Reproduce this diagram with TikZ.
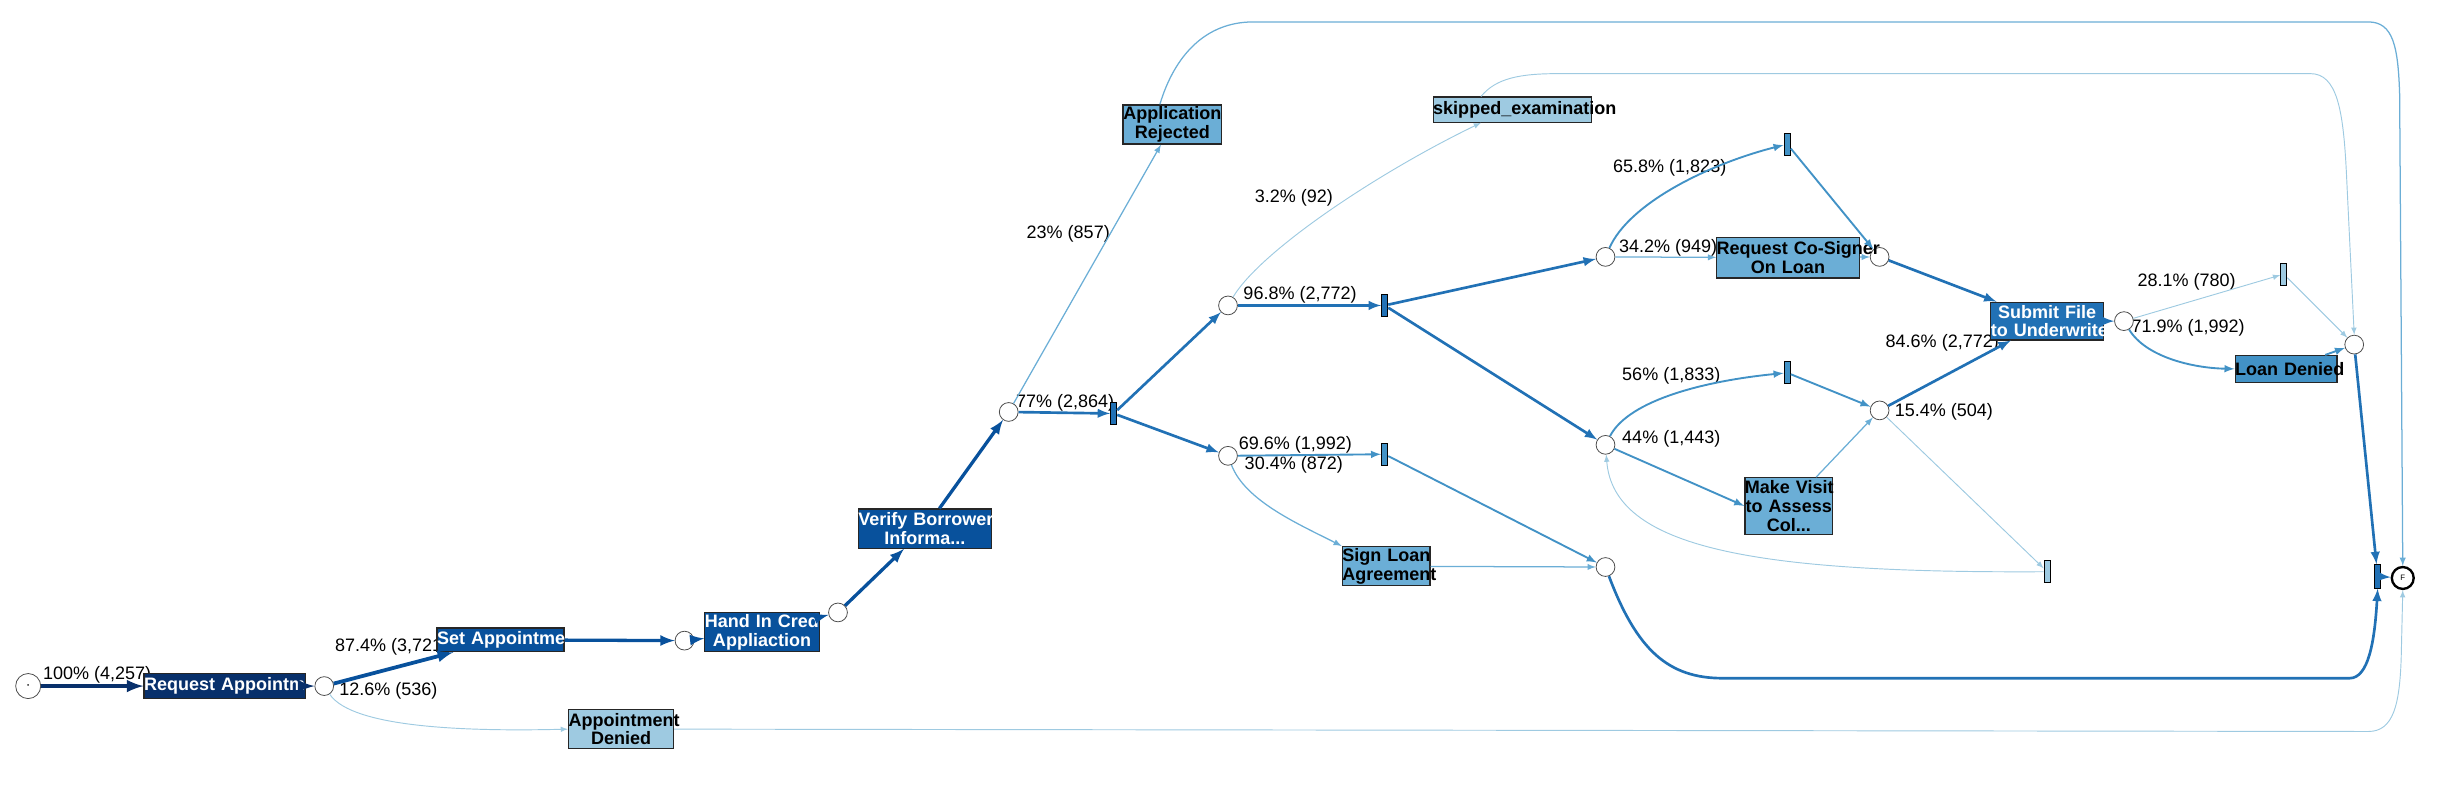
\documentclass[tikz,border=0pt]{standalone}
\usepackage{fontspec}
\setmainfont{Liberation Sans}
\usepackage{tikz}

\definecolor{blueA}{HTML}{08306B}
\definecolor{blueB}{HTML}{08519C}
\definecolor{blueC}{HTML}{2171B5}
\definecolor{blueD}{HTML}{4292C6}
\definecolor{blueE}{HTML}{6BAED6}
\definecolor{blueF}{HTML}{9ECAE1}

\tikzset{
  task/.style={rectangle, draw=black!85, line width=0.8pt, inner sep=0pt, align=center,
    font=\fontsize{11.5}{12}\selectfont\bfseries},
  darktask/.style={task, text=white},
  place/.style={circle, draw=black!70, fill=white, line width=0.5pt, minimum size=12pt, inner sep=0pt},
  bar/.style={rectangle, draw=black, line width=0.6pt, minimum width=4pt, minimum height=14pt, inner sep=0pt},
  pct/.style={inner sep=0pt, font=\fontsize{11.5}{12}\selectfont},
  flowA/.style={->, draw=blueA, line width=2.6pt},
  flowB/.style={->, draw=blueB, line width=2.1pt},
  flowC/.style={->, draw=blueC, line width=1.7pt},
  flowD/.style={->, draw=blueD, line width=1.2pt},
  flowE/.style={->, draw=blueE, line width=0.8pt},
  flowF/.style={->, draw=blueF, line width=0.6pt}
}

\begin{document}
\begin{tikzpicture}[x=1pt, y=-1pt, >=latex]
    \useasboundingbox (0,0) rectangle (1568,504);

    % percentages
    \node[pct] (l1) at (62,431) {100\% (4,257)};
    \node[pct] (l2) at (250,413) {87.4\% (3,721)};
    \node[pct] (l3) at (248,441) {12.6\% (536)};
    \node[pct] (l4) at (680,257) {77\% (2,864)};
    \node[pct] (l5) at (682,149) {23\% (857)};
    \node[pct] (l6) at (830,188) {96.8\% (2,772)};
    \node[pct] (l7) at (826,126) {3.2\% (92)};
    \node[pct] (l8) at (827,284) {69.6\% (1,992)};
    \node[pct] (l9) at (826,297) {30.4\% (872)};
    \node[pct] (l10) at (1066,107) {65.8\% (1,823)};
    \node[pct] (l11) at (1065,158) {34.2\% (949)};
    \node[pct] (l12) at (1067,240) {56\% (1,833)};
    \node[pct] (l13) at (1067,280) {44\% (1,443)};
    \node[pct] (l14) at (1240,219) {84.6\% (2,772)};
    \node[pct] (l15) at (1241,263) {15.4\% (504)};
    \node[pct] (l16) at (1396,180) {28.1\% (780)};
    \node[pct] (l17) at (1397,209) {71.9\% (1,992)};

    % places
    \node[place, minimum size=16pt] (start) at (18,438) {\fontsize{4}{4}\selectfont\textbullet};
    \node[place] (c1) at (207,438) {};
    \node[place] (c2) at (437,409) {};
    \node[place] (c3) at (535,391) {};
    \node[place] (c4) at (644,263) {};
    \node[place] (c5) at (784,195) {};
    \node[place] (c6) at (784,291) {};
    \node[place] (c7) at (1025,164) {};
    \node[place] (c8) at (1025,284) {};
    \node[place] (c12) at (1025,362) {};
    \node[place] (c9) at (1200,164) {};
    \node[place] (c11) at (1200,262) {};
    \node[place] (c10) at (1356,205) {};
    \node[place] (cend) at (1503,220) {};
    \node[place, draw=black, line width=1.5pt, minimum size=14pt, font=\fontsize{5}{5}\selectfont] (fin) at (1534,369) {F};

    % bars
    \node[bar, fill=blueC] (b1) at (711,264) {};
    \node[bar, fill=blueC] (b2) at (884,195) {};
    \node[bar, fill=blueD] (b7) at (884,290) {};
    \node[bar, fill=blueD] (b3) at (1141,92) {};
    \node[bar, fill=blueD] (b5) at (1141,238) {};
    \node[bar, fill=blueF] (b6) at (1307,365) {};
    \node[bar, fill=blueF] (b4) at (1458,175) {};
    \node[bar, fill=blueC, minimum height=15pt] (bend) at (1518,368) {};

    % tasks
    \node[darktask, fill=blueA, text width=103pt, minimum height=16pt] (reqapp) at (143.5,438) {\mbox{Request Appointme}};
    \node[darktask, fill=blueB, text width=81pt, minimum height=15pt] (setapp) at (319.5,408.5) {\mbox{Set Appointme}};
    \node[darktask, fill=blueB, text width=73pt, minimum height=25pt] (handin) at (486.5,403.5) {\mbox{Hand In Credi}\\\mbox{Appliaction}};
    \node[darktask, fill=blueB, text width=85pt, minimum height=25pt] (verify) at (590.5,337.5) {\mbox{Verify Borrower}\\\mbox{Informa...}};
    \node[task, fill=blueE, text width=63pt, minimum height=25pt] (apprej) at (748.5,79.5) {\mbox{Application}\\\mbox{Rejected}};
    \node[task, fill=blueF, text width=101pt, minimum height=16pt] (skipped) at (965.5,70) {\mbox{skipped\_examination}};
    \node[task, fill=blueE, text width=56pt, minimum height=25pt] (signloan) at (885,361.5) {\mbox{Sign Loan}\\\mbox{Agreement}};
    \node[task, fill=blueE, text width=91pt, minimum height=26pt] (cosign) at (1141.5,164.5) {\mbox{Request Co-Signer}\\\mbox{On Loan}};
    \node[task, fill=blueE, text width=56pt, minimum height=36pt] (makevisit) at (1142,323) {\mbox{Make Visit}\\\mbox{to Assess}\\\mbox{Col...}};
    \node[darktask, fill=blueC, text width=72pt, minimum height=24pt] (submit) at (1307,205) {\mbox{Submit File}\\\mbox{to Underwrite}};
    \node[task, fill=blueD, text width=65pt, minimum height=17pt] (loanden) at (1459.5,235.5) {\mbox{Loan Denied}};
    \node[task, fill=blueF, text width=67pt, minimum height=25pt] (appden) at (396.5,465.5) {\mbox{Appointment}\\\mbox{Denied}};

    % flows
    \draw[flowA] (start) -- (reqapp);
    \draw[flowA] (reqapp) -- (c1);
    \draw[flowB, line width=2.4pt] (c1) -- (setapp);
    \draw[flowF] (c1) .. controls (225,465) and (300,467) .. (appden.west);
    \draw[flowB] (setapp) -- (c2);
    \draw[flowB] (c2) -- (handin);
    \draw[flowB] (handin) -- (c3);
    \draw[flowB] (c3) -- (verify);
    \draw[flowB] (verify) -- (c4);
    \draw[flowC] (c4) -- (b1);
    \draw[flowE] (c4) -- (apprej);
    \draw[flowC] (b1) -- (c5);
    \draw[flowC] (b1) -- (c6);
    \draw[flowC] (c5) -- (b2);
    \draw[flowF] (c5) .. controls (805,160) and (880,110) .. ([xshift=-20pt]skipped.south);
    \draw[flowD] (c6) -- (b7);
    \draw[flowE] (c6) .. controls (795,320) and (830,335) .. (signloan.north west);
    \draw[flowC] (b2) -- (c7);
    \draw[flowC] (b2) -- (c8);
    \draw[flowD] (c7) .. controls (1040,130) and (1090,105) .. (b3);
    \draw[flowE] (c7) -- (cosign);
    \draw[flowD] (b3) -- (c9);
    \draw[flowE] (cosign) -- (c9);
    \draw[flowC] (c9) -- (submit);
    \draw[flowD] (c8) .. controls (1040,255) and (1090,243) .. (b5);
    \draw[flowD] (c8) -- (makevisit.west);
    \draw[flowD] (b5) -- (c11);
    \draw[flowE] (makevisit) -- (c11);
    \draw[flowC] (c11) -- (submit);
    \draw[flowF] (c11) -- (b6);
    \draw[flowF] (b6) .. controls (1120,366) and (1030,350) .. (c8);
    \draw[flowD] (b7) -- (c12);
    \draw[flowE] (signloan) -- (c12);
    \draw[flowC] (c12) .. controls (1045,415) and (1065,433) .. (1100,433) -- (1500,433)
        .. controls (1512,433) and (1516,410) .. (bend.south);
    \draw[flowC] (submit) -- (c10);
    \draw[flowF] (c10) -- (b4);
    \draw[flowD] (c10) .. controls (1370,228) and (1400,235) .. (loanden.west);
    \draw[flowF] (b4) -- (cend);
    \draw[flowD] (loanden) -- (cend);
    \draw[flowC] (cend) -- (bend);
    \draw[flowC] (bend) -- (fin);
    \draw[flowE] ([xshift=-8pt]apprej.north) .. controls (750,35) and (770,14) .. (800,14) -- (1512,14)
        .. controls (1528,14) and (1531,30) .. (1532,60) -- (fin.north);
    \draw[flowF] ([xshift=-20pt]skipped.north) .. controls (955,50) and (970,47) .. (995,47) -- (1475,47)
        .. controls (1492,47) and (1496,70) .. (1498,110) -- (cend.north);
    \draw[flowF] (appden.east) -- (1512,467) .. controls (1528,467) and (1532,450) .. (1533,420) -- (fin.south);
\end{tikzpicture}
\end{document}
